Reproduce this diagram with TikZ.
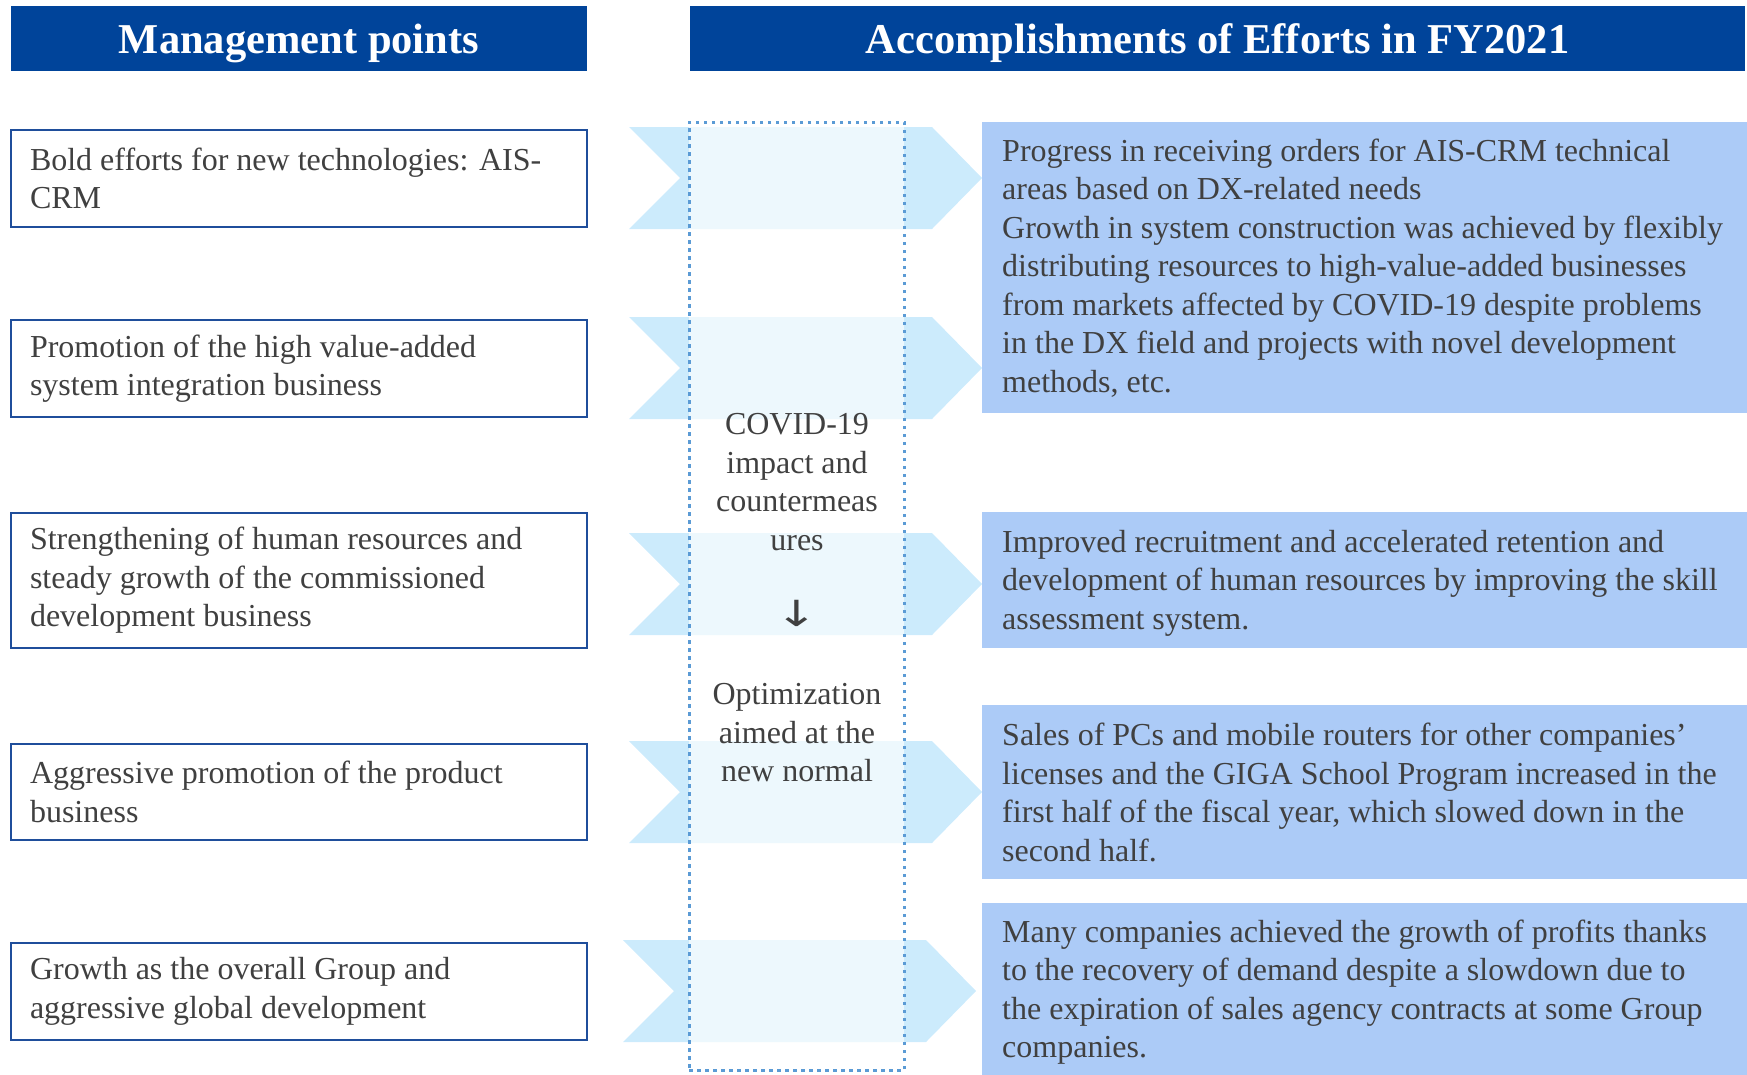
\documentclass[tikz,border=0pt]{standalone}
\usepackage{fontspec}
\setmainfont{Liberation Serif}
\newfontfamily\arrowfont{DejaVu Sans}
\usetikzlibrary{positioning}
\definecolor{hdblue}{RGB}{0,68,154}
\definecolor{bxblue}{RGB}{31,78,155}
\definecolor{chevblue}{RGB}{204,235,252}
\definecolor{resblue}{RGB}{172,203,247}
\definecolor{dotblue}{RGB}{91,155,213}
\definecolor{txtgray}{RGB}{64,64,64}

\begin{document}
\begin{tikzpicture}
[x=1pt,y=-1pt,
head/.style={fill=hdblue,text=white,font=\fontsize{42.5}{50}\selectfont\bfseries,minimum height=65pt,inner sep=0pt,text depth=0pt},
point/.style={draw=bxblue,line width=1.8pt,fill=white,text=txtgray,font=\fontsize{32}{38.5}\selectfont,text width=538pt,inner xsep=19pt,inner ysep=0pt,align=flush left},
resbox/.style={fill=resblue,minimum width=765pt,inner sep=0pt,anchor=north west},
restext/.style={text=txtgray,font=\fontsize{32}{38.5}\selectfont,align=left,inner sep=0pt},
chev/.style={fill=chevblue},
dotbox/.style={draw=dotblue,line width=3pt,dash pattern=on 3.5pt off 4.5pt,fill=white,fill opacity=0.65,draw opacity=1,inner sep=0pt},
midtext/.style={text=txtgray,font=\fontsize{32}{38.5}\selectfont,align=center,inner sep=0pt}]
\useasboundingbox (0,0) rectangle (1747,1074);

\node[head,minimum width=576pt] (mgmt) at (299,38.5) {Management points};
\node[head,minimum width=1055pt] (accomp) at (1217.5,38.5) {Accomplishments of Efforts in FY2021};

\node[point,minimum height=97pt] (p1) at (299,178.5) {Bold efforts for new technologies: AIS-\\CRM};
\node[point,minimum height=97pt] (p2) at (299,368.5) {Promotion of the high value-added\\system integration business};
\node[point,minimum height=135pt] (p3) at (299,580.5) {Strengthening of human resources and\\steady growth of the commissioned\\development business};
\node[point,minimum height=96pt] (p4) at (299,792) {Aggressive promotion of the product\\business};
\node[point,minimum height=97pt] (p5) at (299,991.5) {Growth as the overall Group and\\aggressive global development};

\foreach \c/\d in {178/0,368/0,584/0,792/0,991/-6}
  \fill[chev] (629+\d,\c-51) -- (932+\d,\c-51) -- (982+\d,\c) -- (932+\d,\c+51) -- (629+\d,\c+51) -- (680+\d,\c) -- cycle;

\node[dotbox,minimum width=215pt,minimum height=948pt] (covid) at (796.5,596) {};
\node[midtext] (impact) at (797,482) {COVID-19\\impact and\\countermeas\\ures};
\node[midtext,font=\fontsize{30}{36}\arrowfont] (arr) at (797,613) {\scalebox{1.7}[1.2]{↓}};
\node[midtext] (normal) at (797,733) {Optimization\\aimed at the\\new normal};

\node[resbox,minimum height=291pt] (r1) at (982,122) {};
\node[resbox,minimum height=136pt] (r2) at (982,512) {};
\node[resbox,minimum height=174pt] (r3) at (982,705) {};
\node[resbox,minimum height=178pt] (r4) at (982,903) {};

\node[restext,right=20pt of r1.west] (r1t) {Progress in receiving orders for AIS-CRM technical\\areas based on DX-related needs\\Growth in system construction was achieved by flexibly\\distributing resources to high-value-added businesses\\from markets affected by COVID-19 despite problems\\in the DX field and projects with novel development\\methods, etc.};
\node[restext,right=20pt of r2.west,yshift=-3pt] (r2t) {Improved recruitment and accelerated retention and\\development of human resources by improving the skill\\assessment system.};
\node[restext,right=20pt of r3.west] (r3t) {Sales of PCs and mobile routers for other companies’\\licenses and the GIGA School Program increased in the\\first half of the fiscal year, which slowed down in the\\second half.};
\node[restext,right=20pt of r4.west] (r4t) {Many companies achieved the growth of profits thanks\\to the recovery of demand despite a slowdown due to\\the expiration of sales agency contracts at some Group\\companies.};
\end{tikzpicture}
\end{document}
